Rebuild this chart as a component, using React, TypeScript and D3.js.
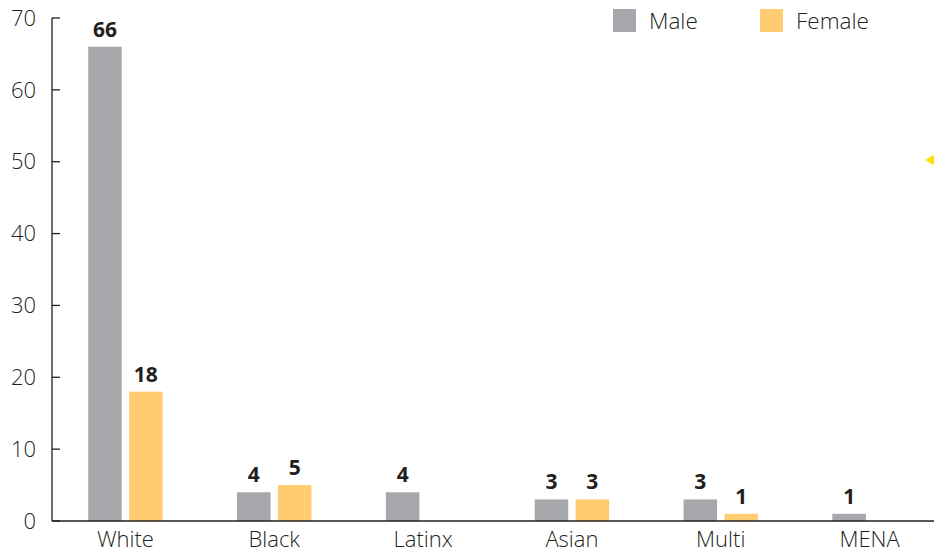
import * as d3 from "d3"

// data
const categories = ["White", "Black", "Latinx", "Asian", "Multi", "MENA"]
const series = ["Male", "Female"]
const maleValues = [66, 4, 4, 3, 3, 1]
const femaleValues: (number | null)[] = [18, 5, null, 3, 1, null]
const yTicks = [0, 10, 20, 30, 40, 50, 60, 70]

const colors: Record<string, string> = { Male: "#a7a8ab", Female: "#ffcc72" }
const ink = "#231f20"
const font = "'Open Sans', 'Noto Sans', sans-serif"

const App = () => {
  const width = 934
  const height = 554
  const margin = { top: 18, right: -10, bottom: 33, left: 51 }

  const xScale = d3
    .scaleBand()
    .domain(categories)
    .range([margin.left, width - margin.right])
    .paddingInner(0.5)
    .paddingOuter(0.25)

  const xSub = d3.scaleBand().domain(series).range([0, xScale.bandwidth()]).paddingInner(0.18)

  const yScale = d3
    .scaleLinear()
    .domain([0, 70])
    .range([height - margin.bottom, margin.top])

  const rows = categories.map((c, i) => ({
    name: c,
    Male: maleValues[i],
    Female: femaleValues[i],
  }))

  const y0 = yScale(0)
  const axisX = 52

  return (
    <svg
      width={width}
      height={height}
      style={{ position: "absolute", left: 0, top: 0, background: "#fff" }}
      fontFamily={font}
    >
      {/* bars and value labels */}
      {rows.map((d) =>
        series.map((s) => {
          const v = (d as any)[s] as number | null
          if (v == null) return null
          const x = (xScale(d.name) || 0) + (xSub(s) || 0)
          return (
            <g key={d.name + s}>
              <rect
                x={x}
                y={yScale(v)}
                width={xSub.bandwidth()}
                height={y0 - yScale(v)}
                fill={colors[s]}
              />
              <text
                x={x + xSub.bandwidth() / 2}
                y={yScale(v) - 10}
                textAnchor="middle"
                fontSize={21}
                fontWeight={700}
                fill={ink}
              >
                {v}
              </text>
            </g>
          )
        })
      )}

      {/* y axis */}
      <line x1={axisX} x2={axisX} y1={yScale(70)} y2={y0} stroke={ink} strokeWidth={1.3} />
      {yTicks.map((t) => (
        <g key={t}>
          <line x1={axisX} x2={axisX + 8} y1={yScale(t)} y2={yScale(t)} stroke={ink} strokeWidth={1.3} />
          <text
            x={36}
            y={yScale(t)}
            dy="0.35em"
            textAnchor="end"
            fontSize={22}
            fontWeight={300}
            fill={ink}
          >
            {t}
          </text>
        </g>
      ))}

      {/* x axis */}
      <line x1={axisX} x2={width} y1={y0} y2={y0} stroke={ink} strokeWidth={1.3} />
      {categories.map((c) => (
        <text
          key={c}
          x={(xScale(c) || 0) + xScale.bandwidth() / 2}
          y={547}
          textAnchor="middle"
          fontSize={22}
          fontWeight={300}
          fill={ink}
        >
          {c}
        </text>
      ))}

      {/* legend */}
      {series.map((s, i) => (
        <g key={s} transform={`translate(${613 + i * 147},9)`}>
          <rect width={23} height={23} fill={colors[s]} />
          <text x={36} y={20} fontSize={22.5} fontWeight={300} fill={ink}>
            {s}
          </text>
        </g>
      ))}

      {/* small yellow marker on the right edge */}
      <path d="M925,160 L934,155 L934,165 Z" fill="#ffe000" />
    </svg>
  )
}

export default App
